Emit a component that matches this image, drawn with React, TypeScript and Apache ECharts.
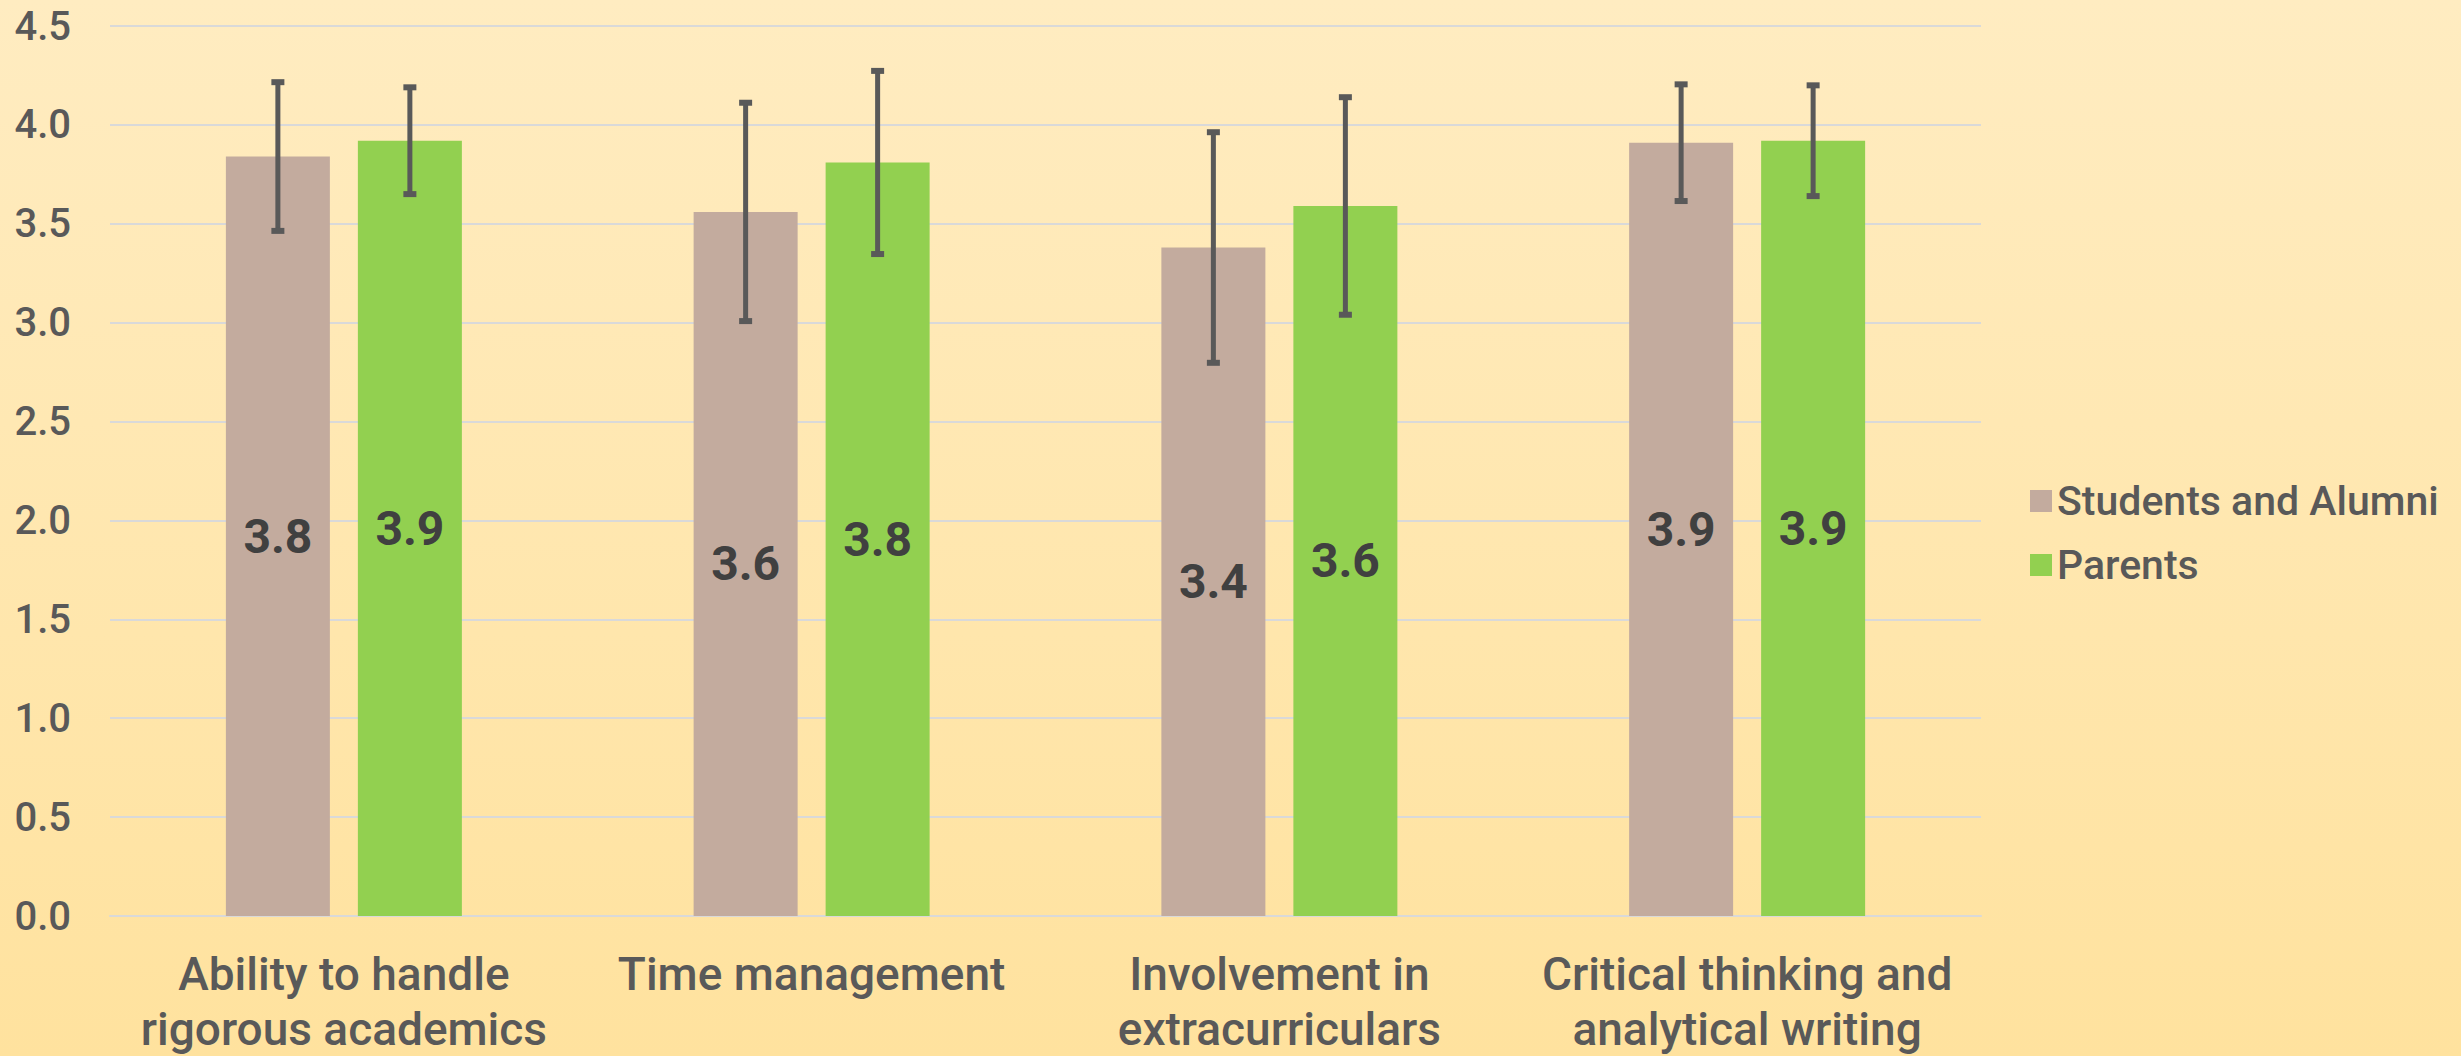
import React, { useEffect, useRef } from "react";
import * as echarts from "echarts";

const categories = [
  "Ability to handle\nrigorous academics",
  "Time management",
  "Involvement in\nextracurriculars",
  "Critical thinking and\nanalytical writing",
];
const seriesNames = ["Students and Alumni", "Parents"];
const studentsValues = [3.84, 3.56, 3.38, 3.91];
const parentsValues = [3.92, 3.81, 3.59, 3.92];
const studentsError = [0.376, 0.552, 0.583, 0.295];
const parentsError = [0.27, 0.463, 0.55, 0.28];
const yTicks = { min: 0, max: 4.5, interval: 0.5 };

const BAR_W = 104;
const BAR_GAP = 28;
const FONT = "Roboto, 'Liberation Sans', Arial, sans-serif";

function errorSeries(name: string, values: number[], errs: number[], offset: number) {
  return {
    type: "custom",
    name,
    z: 10,
    encode: { x: 0, y: [1, 2] },
    data: values.map((v, i) => [i, v - errs[i], v + errs[i]]),
    renderItem: (params: any, api: any) => {
      const cat = api.value(0);
      const lo = api.coord([cat, api.value(1)]);
      const hi = api.coord([cat, api.value(2)]);
      const x = lo[0] + offset;
      const style = { stroke: "#595959", lineWidth: 5 };
      const cap = { stroke: "#595959", lineWidth: 6 };
      return {
        type: "group",
        children: [
          { type: "line", shape: { x1: x, y1: lo[1], x2: x, y2: hi[1] }, style },
          { type: "line", shape: { x1: x - 6.5, y1: lo[1], x2: x + 6.5, y2: lo[1] }, style: cap },
          { type: "line", shape: { x1: x - 6.5, y1: hi[1], x2: x + 6.5, y2: hi[1] }, style: cap },
        ],
      };
    },
  };
}

export default function App() {
  const ref = useRef<HTMLDivElement>(null);
  useEffect(() => {
    document.body.style.margin = "0";
    const chart = echarts.init(ref.current!, undefined, { renderer: "svg" });
    const off = (BAR_W + BAR_GAP) / 2;
    const valueLabel = {
      show: true,
      position: "inside",
      formatter: (p: any) => p.value.toFixed(1),
      color: "#404040",
      fontSize: 48,
      fontWeight: "bold",
      fontFamily: FONT,
    };
    chart.setOption({
      animation: false,
      backgroundColor: new echarts.graphic.LinearGradient(0, 0, 0, 1, [
        { offset: 0, color: "#FFECC1" },
        { offset: 1, color: "#FFE29E" },
      ]),
      grid: { left: 110, right: 480, top: 26, bottom: 138 },
      legend: {
        data: seriesNames,
        orient: "vertical",
        left: 2025,
        top: 474,
        itemWidth: 22,
        itemHeight: 22,
        itemGap: 20,
        icon: "rect",
        textStyle: {
          color: "#595959",
          fontSize: 41,
          fontWeight: 500,
          fontFamily: FONT,
          lineHeight: 44,
        },
      },
      xAxis: {
        type: "category",
        data: categories,
        axisTick: { show: false },
        axisLine: { lineStyle: { color: "#D9D9D9", width: 2 } },
        axisLabel: {
          color: "#595959",
          fontSize: 46,
          fontWeight: 500,
          fontFamily: FONT,
          lineHeight: 55,
          margin: 30,
          interval: 0,
        },
      },
      yAxis: {
        type: "value",
        min: yTicks.min,
        max: yTicks.max,
        interval: yTicks.interval,
        axisLine: { show: false },
        axisTick: { show: false },
        splitLine: { lineStyle: { color: "#D9D9D9", width: 2 } },
        axisLabel: {
          color: "#595959",
          fontSize: 40,
          fontWeight: 500,
          fontFamily: FONT,
          margin: 39,
          formatter: (v: number) => v.toFixed(1),
        },
      },
      series: [
        {
          type: "bar",
          name: seriesNames[0],
          data: studentsValues,
          barWidth: BAR_W,
          barGap: (BAR_GAP / BAR_W) * 100 + "%",
          itemStyle: { color: "#C3AB9E" },
          label: valueLabel,
        },
        {
          type: "bar",
          name: seriesNames[1],
          data: parentsValues,
          barWidth: BAR_W,
          barGap: (BAR_GAP / BAR_W) * 100 + "%",
          itemStyle: { color: "#92D050" },
          label: valueLabel,
        },
        errorSeries("err1", studentsValues, studentsError, -off),
        errorSeries("err2", parentsValues, parentsError, off),
      ],
    });
    return () => chart.dispose();
  }, []);
  return (
    <div
      ref={ref}
      style={{ position: "fixed", left: 0, top: 0, width: "2461px", height: "1056px" }}
    />
  );
}
